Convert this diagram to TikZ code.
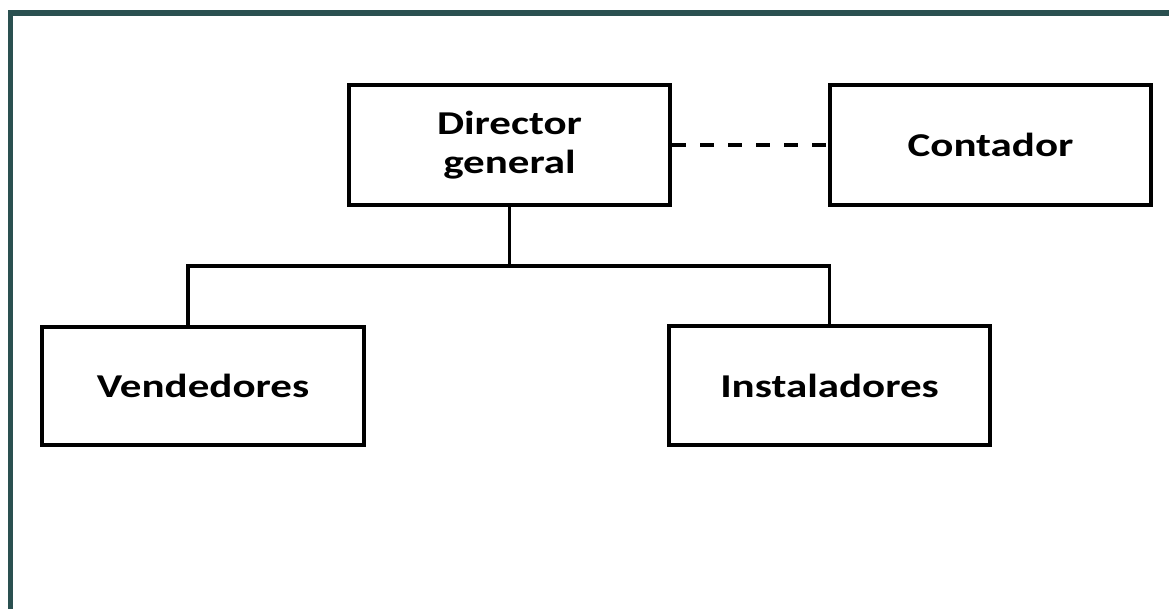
\documentclass[tikz,border=0pt]{standalone}
\usepackage{fontspec}
\setmainfont{Carlito}[FakeStretch=1.29]
\definecolor{frame}{RGB}{42,80,80}
\begin{document}
\begin{tikzpicture}[x=0.75pt,y=-0.75pt,
  box/.style={draw=black, line width=3.4pt, fill=white, align=center,
    font=\fontsize{25}{29.5}\selectfont\bfseries, inner sep=0pt},
  conn/.style={draw=black, line width=2.3pt},
  dashconn/.style={draw=black, line width=2.6pt, dash pattern=on 10pt off 11pt}]
\useasboundingbox (0,0) rectangle (1169,608);
\fill[white] (0,0) rectangle (1169,608);
\draw[frame, line width=3.8pt] (10.5,612) -- (10.5,13) -- (1175,13);
\node[box, minimum width=321*0.75pt, minimum height=120*0.75pt] (dir) at (509.5,145) {Director\\general};
\node[box, minimum width=321*0.75pt, minimum height=120*0.75pt] (cont) at (990.5,145) {Contador};
\node[box, minimum width=322*0.75pt, minimum height=118*0.75pt] (vend) at (203,386) {Vendedores};
\node[box, minimum width=321*0.75pt, minimum height=119*0.75pt] (inst) at (829.5,385.5) {Instaladores};
\coordinate (bus) at (509.5,266);
\coordinate (vtop) at (188,327);
\draw[conn] (dir.south) -- (bus);
\draw[conn] (vtop) |- (bus) -| (inst.north);
\draw[dashconn] (dir.east) -- (cont.west);
\end{tikzpicture}
\end{document}
